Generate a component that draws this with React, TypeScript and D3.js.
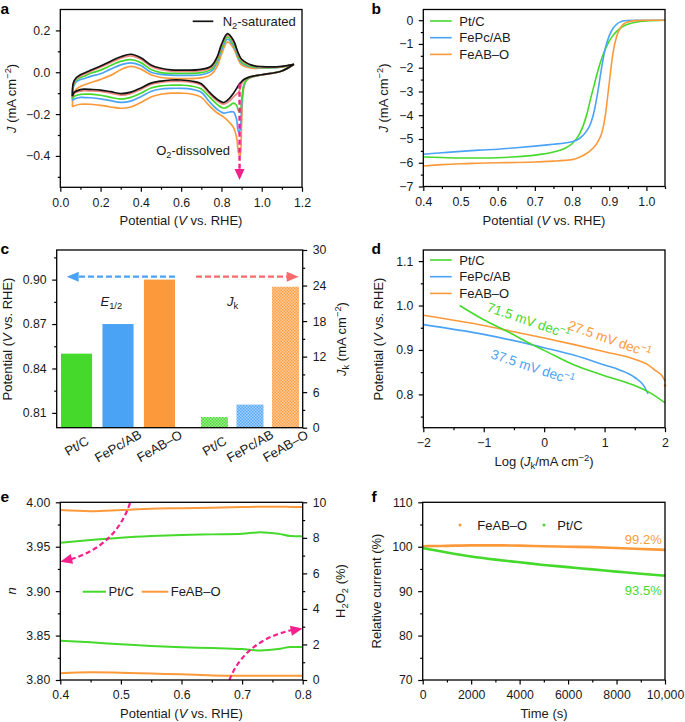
import React, { useEffect, useRef } from 'react';
import * as d3 from 'd3';

const FONT = "'Liberation Sans', Arial, Helvetica, sans-serif";
const TICK = 12.3;
const LAB = 13;
const C_GREEN = '#45d92c';
const C_BLUE = '#4ba3f5';
const C_ORANGE = '#fc9a3b';
const C_SALMON = '#f2877e';
const C_BLACK = '#141414';
const C_PINK = '#f5208c';
const C_RED_ARROW = '#f76b6b';

// ---------- Panel a : CV ----------
const cvUpperX = [0.06, 0.065, 0.08, 0.1, 0.12, 0.15, 0.2, 0.25, 0.3, 0.35, 0.4, 0.45, 0.5, 0.55, 0.6, 0.7, 0.75, 0.78, 0.8, 0.83, 0.86, 0.88, 0.9, 0.95, 1.0, 1.1, 1.16];
const cvLowerX = [0.06, 0.07, 0.1, 0.12, 0.15, 0.2, 0.25, 0.3, 0.35, 0.4, 0.45, 0.5, 0.55, 0.6, 0.65, 0.7, 0.74, 0.78, 0.81, 0.84, 0.86, 0.875, 0.885, 0.893, 0.9, 0.91, 0.925, 0.95, 1.0, 1.1, 1.16];
const cvOrangeUp = [-0.165, -0.11, -0.08, -0.068, -0.06, -0.05, -0.034, -0.015, 0.012, 0.028, 0.015, -0.012, -0.025, -0.029, -0.03, -0.027, -0.01, 0.03, 0.085, 0.145, 0.115, 0.07, 0.035, 0.02, 0.02, 0.026, 0.038];
const cvOrangeLow = [-0.165, -0.16, -0.153, -0.152, -0.153, -0.158, -0.166, -0.172, -0.166, -0.145, -0.118, -0.105, -0.1, -0.1, -0.104, -0.12, -0.16, -0.195, -0.213, -0.24, -0.265, -0.31, -0.385, -0.4, -0.25, -0.08, -0.038, -0.024, -0.013, 0.006, 0.038];
const cvBlueUp = [-0.135, -0.07, -0.045, -0.035, -0.03, -0.02, -0.007, 0.015, 0.035, 0.045, 0.032, 0.0, -0.01, -0.014, -0.015, -0.012, 0.005, 0.05, 0.105, 0.158, 0.127, 0.08, 0.045, 0.025, 0.022, 0.026, 0.038];
const cvBlueLow = [-0.135, -0.128, -0.12, -0.121, -0.122, -0.127, -0.136, -0.144, -0.138, -0.117, -0.092, -0.08, -0.077, -0.077, -0.081, -0.096, -0.14, -0.178, -0.195, -0.19, -0.19, -0.225, -0.285, -0.275, -0.17, -0.07, -0.036, -0.023, -0.012, 0.006, 0.038];
const cvGreenUp = [-0.125, -0.06, -0.035, -0.025, -0.018, -0.005, 0.01, 0.032, 0.052, 0.06, 0.046, 0.013, -0.002, -0.005, -0.005, -0.002, 0.015, 0.06, 0.115, 0.169, 0.135, 0.088, 0.05, 0.028, 0.023, 0.026, 0.038];
const cvGreenLow = [-0.125, -0.115, -0.106, -0.105, -0.105, -0.11, -0.12, -0.128, -0.12, -0.1, -0.075, -0.065, -0.062, -0.062, -0.066, -0.08, -0.118, -0.155, -0.172, -0.16, -0.148, -0.158, -0.185, -0.19, -0.14, -0.065, -0.035, -0.022, -0.012, 0.006, 0.038];
const cvSalmonUp = [-0.118, -0.055, -0.03, -0.018, -0.01, 0.004, 0.024, 0.046, 0.067, 0.078, 0.062, 0.028, 0.012, 0.005, 0.004, 0.008, 0.024, 0.07, 0.128, 0.178, 0.145, 0.095, 0.058, 0.032, 0.025, 0.027, 0.038];
const cvSalmonLow = [-0.118, -0.1, -0.09, -0.088, -0.089, -0.092, -0.1, -0.109, -0.102, -0.082, -0.058, -0.048, -0.044, -0.044, -0.048, -0.062, -0.102, -0.138, -0.153, -0.138, -0.118, -0.105, -0.095, -0.08, -0.055, -0.04, -0.03, -0.021, -0.012, 0.006, 0.038];
const cvBlackUp = [-0.115, -0.05, -0.025, -0.012, -0.004, 0.01, 0.03, 0.053, 0.074, 0.086, 0.069, 0.035, 0.019, 0.011, 0.01, 0.014, 0.03, 0.076, 0.132, 0.185, 0.152, 0.1, 0.062, 0.034, 0.027, 0.028, 0.038];
const cvBlackLow = [-0.115, -0.095, -0.083, -0.081, -0.082, -0.085, -0.093, -0.102, -0.095, -0.075, -0.052, -0.042, -0.037, -0.037, -0.042, -0.055, -0.095, -0.13, -0.145, -0.125, -0.1, -0.078, -0.062, -0.052, -0.045, -0.036, -0.028, -0.02, -0.012, 0.006, 0.038];
const aXMajor = [0, 0.2, 0.4, 0.6, 0.8, 1.0, 1.2];
const aXMinor = [0.1, 0.3, 0.5, 0.7, 0.9, 1.1];
const aYMajor = [-0.4, -0.2, 0, 0.2];
const aYMinor = [-0.5, -0.3, -0.1, 0.1];

// ---------- Panel b : LSV ----------
const lsvX = [0.4, 0.45, 0.5, 0.55, 0.6, 0.65, 0.7, 0.75, 0.78, 0.8, 0.82, 0.84, 0.85, 0.86, 0.87, 0.88, 0.89, 0.9, 0.91, 0.92, 0.93, 0.94, 0.95, 0.97, 1.0, 1.05];
const lsvPtC = [-5.76, -5.78, -5.8, -5.8, -5.79, -5.75, -5.68, -5.55, -5.4, -5.2, -4.8, -3.95, -3.3, -2.7, -2.1, -1.6, -1.2, -0.88, -0.65, -0.47, -0.34, -0.24, -0.17, -0.09, -0.03, 0];
const lsvFePc = [-5.64, -5.58, -5.52, -5.47, -5.43, -5.37, -5.3, -5.22, -5.17, -5.12, -4.98, -4.65, -4.35, -3.8, -2.95, -1.95, -1.15, -0.66, -0.35, -0.17, -0.07, -0.025, -0.01, 0, 0, 0];
const lsvFeAB = [-6.14, -6.08, -6.04, -6.02, -6.0, -5.99, -5.97, -5.93, -5.9, -5.87, -5.77, -5.6, -5.48, -5.33, -5.1, -4.75, -3.95, -2.65, -1.4, -0.68, -0.32, -0.15, -0.08, -0.02, 0, 0];
const bXMajor = [0.4, 0.5, 0.6, 0.7, 0.8, 0.9, 1.0];
const bXMinor = [0.45, 0.55, 0.65, 0.75, 0.85, 0.95, 1.05];
const bYMajor = [-7, -6, -5, -4, -3, -2, -1, 0];
const bYMinor = [-6.5, -5.5, -4.5, -3.5, -2.5, -1.5, -0.5];

// ---------- Panel c : bars ----------
const catalysts = ['Pt/C', 'FePc/AB', 'FeAB–O'];
const halfWave = [0.85, 0.87, 0.90];
const kineticJ = [1.8, 3.9, 23.8];
const cLeftMajor = [0.81, 0.84, 0.87, 0.90];
const cLeftMinor = [0.825, 0.855, 0.885, 0.915];
const cRightMajor = [0, 6, 12, 18, 24, 30];
const cRightMinor = [3, 9, 15, 21, 27];

// ---------- Panel d : Tafel ----------
const tafPtCX = [-1.4, -1.0, -0.6, -0.2, 0, 0.5, 1.0, 1.5, 1.75, 2.0];
const tafPtCY = [1.0, 0.968, 0.941, 0.912, 0.899, 0.866, 0.842, 0.82, 0.804, 0.781];
const tafFePcX = [-2, -1, 0, 0.5, 1.0, 1.25, 1.5, 1.65, 1.72];
const tafFePcY = [0.957, 0.935, 0.905, 0.888, 0.866, 0.855, 0.838, 0.819, 0.801];
const tafFeABX = [-2, -1, -0.5, 0, 0.5, 1.0, 1.5, 1.7, 1.85, 1.95, 2.0];
const tafFeABY = [0.978, 0.955, 0.941, 0.927, 0.912, 0.896, 0.879, 0.868, 0.853, 0.842, 0.83];
const dXMajor = [-2, -1, 0, 1, 2];
const dXMinor = [-1.5, -0.5, 0.5, 1.5];
const dYMajor = [0.8, 0.9, 1.0, 1.1];
const dYMinor = [0.75, 0.85, 0.95, 1.05];

// ---------- Panel e : n and H2O2 ----------
const eX = [0.4, 0.45, 0.5, 0.55, 0.6, 0.65, 0.7, 0.73, 0.76, 0.78, 0.8];
const nFeAB = [3.9913, 3.990, 3.9913, 3.9928, 3.9934, 3.994, 3.9946, 3.995, 3.995, 3.9948, 3.9946];
const nPtC = [3.9545, 3.9576, 3.9602, 3.962, 3.9632, 3.9639, 3.9647, 3.9662, 3.9645, 3.962, 3.9617];
const h2o2PtC = [2.21, 2.12, 2.01, 1.91, 1.84, 1.8, 1.74, 1.66, 1.74, 1.86, 1.86];
const h2o2FeAB = [0.38, 0.43, 0.41, 0.36, 0.32, 0.26, 0.24, 0.24, 0.24, 0.24, 0.24];
const eXMajor = [0.4, 0.5, 0.6, 0.7, 0.8];
const eXMinor = [0.45, 0.55, 0.65, 0.75];
const eLMajor = [3.8, 3.85, 3.9, 3.95, 4.0];
const eLMinor = [3.825, 3.875, 3.925, 3.975];
const eRMajor = [0, 2, 4, 6, 8, 10];
const eRMinor = [1, 3, 5, 7, 9];

// ---------- Panel f : stability ----------
const tX = [0, 500, 1000, 2000, 3000, 4000, 5000, 6000, 7000, 8000, 9000, 10000];
const relFeAB = [100.1, 100.15, 100.2, 100.3, 100.3, 100.25, 100.1, 100.0, 99.9, 99.7, 99.5, 99.3];
const relPtC = [99.7, 99.2, 98.7, 97.8, 97.1, 96.5, 95.9, 95.4, 94.9, 94.4, 93.9, 93.5];
const fXMajor = [0, 2000, 4000, 6000, 8000, 10000];
const fXMinor = [1000, 3000, 5000, 7000, 9000];
const fYMajor = [70, 80, 90, 100, 110];
const fYMinor = [75, 85, 95, 105];

type Part = { t: string; i?: boolean; sub?: boolean; sup?: boolean; b?: boolean };

const zip = (xs: number[], ys: number[]) => xs.map((v, i) => [v, ys[i]] as [number, number]);

export default function App() {
  const ref = useRef<SVGSVGElement>(null);

  useEffect(() => {
    const svg = d3.select(ref.current);
    svg.selectAll('*').remove();
    const root = svg.append('g').attr('font-family', FONT);

    const defs = svg.append('defs');
    [['hg', C_GREEN], ['hb', C_BLUE], ['ho', C_ORANGE]].forEach(([id, col]) => {
      const p = defs.append('pattern').attr('id', id).attr('patternUnits', 'userSpaceOnUse').attr('width', 3).attr('height', 3);
      p.append('rect').attr('width', 3).attr('height', 3).attr('fill', col).attr('opacity', 0.5);
      p.append('rect').attr('width', 1.5).attr('height', 1.5).attr('fill', col).attr('opacity', 0.9);
      p.append('rect').attr('x', 1.5).attr('y', 1.5).attr('width', 1.5).attr('height', 1.5).attr('fill', col).attr('opacity', 0.9);
    });

    const rich = (g: any, parts: Part[], x: number, y: number, o: { anchor?: string; size?: number; rot?: number; fill?: string; dy?: string } = {}) => {
      const size = o.size ?? LAB;
      const t = g.append('text')
        .attr('transform', `translate(${x},${y}) rotate(${o.rot ?? 0})`)
        .attr('text-anchor', o.anchor ?? 'start')
        .attr('font-size', size)
        .attr('fill', o.fill ?? '#1a1a1a');
      if (o.dy) t.attr('dy', o.dy);
      parts.forEach((p) => {
        const ts = t.append('tspan').text(p.t);
        if (p.i) ts.attr('font-style', 'italic');
        if (p.b) ts.attr('font-weight', 'bold');
        if (p.sub) ts.attr('font-size', size * 0.72).attr('baseline-shift', -size * 0.22);
        if (p.sup) ts.attr('font-size', size * 0.72).attr('baseline-shift', size * 0.38);
      });
      return t;
    };

    const styleAxis = (a: any) => {
      a.select('.domain').remove();
      a.selectAll('line').attr('stroke', '#000').attr('stroke-width', 1.2);
      a.attr('font-family', FONT).attr('font-size', TICK);
      a.selectAll('text').attr('fill', '#1a1a1a');
    };
    const axB = (g: any, x: any, yPos: number, major: number[], minor: number[], fmt: (v: number) => string) => {
      styleAxis(g.append('g').attr('transform', `translate(0,${yPos})`).call(d3.axisBottom(x).tickValues(minor).tickSize(2.5).tickFormat(() => '')));
      styleAxis(g.append('g').attr('transform', `translate(0,${yPos})`).call(d3.axisBottom(x).tickValues(major).tickSize(4.5).tickPadding(6).tickFormat(fmt as any)));
    };
    const axL = (g: any, y: any, xPos: number, major: number[], minor: number[], fmt: (v: number) => string) => {
      styleAxis(g.append('g').attr('transform', `translate(${xPos},0)`).call(d3.axisLeft(y).tickValues(minor).tickSize(2.5).tickFormat(() => '')));
      styleAxis(g.append('g').attr('transform', `translate(${xPos},0)`).call(d3.axisLeft(y).tickValues(major).tickSize(4.5).tickPadding(5.5).tickFormat(fmt as any)));
    };
    const axR = (g: any, y: any, xPos: number, major: number[], minor: number[], fmt: (v: number) => string) => {
      styleAxis(g.append('g').attr('transform', `translate(${xPos},0)`).call(d3.axisRight(y).tickValues(minor).tickSize(2.5).tickFormat(() => '')));
      styleAxis(g.append('g').attr('transform', `translate(${xPos},0)`).call(d3.axisRight(y).tickValues(major).tickSize(4.5).tickPadding(5.5).tickFormat(fmt as any)));
    };
    const frame = (g: any, x0: number, x1: number, yT: number, yB: number) => {
      g.append('rect').attr('x', x0).attr('y', yT).attr('width', x1 - x0).attr('height', yB - yT)
        .attr('fill', 'none').attr('stroke', '#000').attr('stroke-width', 1.3);
    };
    const head = (g: any, tx: number, ty: number, ang: number, len: number, hw: number, col: string) => {
      const bx = tx - len * Math.cos(ang), by = ty - len * Math.sin(ang);
      const px = -Math.sin(ang) * hw, py = Math.cos(ang) * hw;
      g.append('path').attr('d', `M${tx},${ty}L${bx + px},${by + py}L${bx - px},${by - py}Z`).attr('fill', col);
    };
    const letter = (t: string, x: number, y: number) =>
      root.append('text').attr('x', x).attr('y', y).attr('font-size', 15.5).attr('font-weight', 'bold').attr('fill', '#000').text(t);
    const f1 = d3.format('.1f');
    const f2 = d3.format('.2f');
    const fd = d3.format('d');

    // ================= Panel a =================
    {
      const g = root.append('g');
      const x = d3.scaleLinear().domain([0, 1.2]).range([60.3, 302]);
      const y = d3.scaleLinear().domain([-0.55, 0.3]).range([187.3, 9.5]);
      const line = d3.line<[number, number]>().x((d) => x(d[0])).y((d) => y(d[1])).curve(d3.curveCatmullRom.alpha(0.5));
      const cvs: [number[], number[], string][] = [
        [cvOrangeUp, cvOrangeLow, C_ORANGE],
        [cvBlueUp, cvBlueLow, C_BLUE],
        [cvGreenUp, cvGreenLow, C_GREEN],
        [cvSalmonUp, cvSalmonLow, C_SALMON],
        [cvBlackUp, cvBlackLow, C_BLACK],
      ];
      cvs.forEach(([up, low, col]) => {
        g.append('path').attr('d', line(zip(cvUpperX, up))).attr('fill', 'none').attr('stroke', col).attr('stroke-width', 1.7);
        g.append('path').attr('d', line(zip(cvLowerX, low))).attr('fill', 'none').attr('stroke', col).attr('stroke-width', 1.7);
      });
      g.append('line').attr('x1', x(0.89)).attr('x2', x(0.89)).attr('y1', y(-0.055)).attr('y2', y(-0.47))
        .attr('stroke', C_PINK).attr('stroke-width', 2.4).attr('stroke-dasharray', '5,3');
      head(g, x(0.89), y(-0.515), Math.PI / 2, 11, 5, C_PINK);
      frame(g, 60.3, 302, 9.5, 187.3);
      axB(g, x, 187.3, aXMajor, aXMinor, f1);
      axL(g, y, 60.3, aYMajor, aYMinor, f1);
      g.append('line').attr('x1', 192.7).attr('x2', 213.3).attr('y1', 21.3).attr('y2', 21.3).attr('stroke', C_BLACK).attr('stroke-width', 1.7);
      rich(g, [{ t: 'N' }, { t: '2', sub: true }, { t: '-saturated' }], 222.7, 21.3, { dy: '0.35em' });
      rich(g, [{ t: 'O' }, { t: '2', sub: true }, { t: '-dissolved' }], 230, 154.5, { anchor: 'end' });
      rich(g, [{ t: 'J', i: true }, { t: ' (mA cm' }, { t: '−2', sup: true }, { t: ')' }], 15.5, (9.5 + 187.3) / 2, { anchor: 'middle', rot: -90 });
      rich(g, [{ t: 'Potential (' }, { t: 'V', i: true }, { t: ' vs. RHE)' }], 181, 225, { anchor: 'middle' });
      letter('a', 0.5, 14);
    }

    // ================= Panel b =================
    {
      const g = root.append('g');
      const x = d3.scaleLinear().domain([0.4, 1.05]).range([423.3, 665]);
      const y = d3.scaleLinear().domain([-7, 0.45]).range([186.5, 9.5]);
      const line = d3.line<[number, number]>().x((d) => x(d[0])).y((d) => y(d[1])).curve(d3.curveMonotoneX);
      [[lsvPtC, C_GREEN], [lsvFePc, C_BLUE], [lsvFeAB, C_ORANGE]].forEach(([ys, col]: any) => {
        g.append('path').attr('d', line(zip(lsvX, ys))).attr('fill', 'none').attr('stroke', col).attr('stroke-width', 1.6);
      });
      frame(g, 423.3, 665, 9.5, 186.5);
      axB(g, x, 186.5, bXMajor, bXMinor, f1);
      axL(g, y, 423.3, bYMajor, bYMinor, fd);
      const leg: [string, string][] = [['Pt/C', C_GREEN], ['FePc/AB', C_BLUE], ['FeAB–O', C_ORANGE]];
      leg.forEach(([name, col], i) => {
        const yy = 21 + i * 16.7;
        g.append('line').attr('x1', 430).attr('x2', 451.7).attr('y1', yy).attr('y2', yy).attr('stroke', col).attr('stroke-width', 1.6);
        rich(g, [{ t: name }], 459.3, yy, { dy: '0.35em' });
      });
      rich(g, [{ t: 'J', i: true }, { t: ' (mA cm' }, { t: '−2', sup: true }, { t: ')' }], 388, 98, { anchor: 'middle', rot: -90 });
      rich(g, [{ t: 'Potential (' }, { t: 'V', i: true }, { t: ' vs. RHE)' }], 544, 225, { anchor: 'middle' });
      letter('b', 371.5, 14);
    }

    // ================= Panel c =================
    {
      const g = root.append('g');
      const yL = d3.scaleLinear().domain([0.8, 0.92]).range([427.7, 250]);
      const yR = d3.scaleLinear().domain([0, 30]).range([427.7, 250]);
      const xL = d3.scaleBand<string>().domain(catalysts).range([61, 175]).paddingInner(0.25).paddingOuter(0);
      const xR = d3.scaleBand<string>().domain(catalysts).range([201, 299]).paddingInner(0.24).paddingOuter(0);
      const solid = [C_GREEN, C_BLUE, C_ORANGE];
      const hatch = ['url(#hg)', 'url(#hb)', 'url(#ho)'];
      catalysts.forEach((c, i) => {
        g.append('rect').attr('x', xL(c)!).attr('width', xL.bandwidth()).attr('y', yL(halfWave[i])).attr('height', yL(0.8) - yL(halfWave[i])).attr('fill', solid[i]);
        g.append('rect').attr('x', xR(c)!).attr('width', xR.bandwidth()).attr('y', yR(kineticJ[i])).attr('height', yR(0) - yR(kineticJ[i])).attr('fill', hatch[i]);
        rich(g, [{ t: c }], xL(c)! + xL.bandwidth() / 2, 446, { anchor: 'middle', rot: -30, dy: '0.35em' });
        rich(g, [{ t: c }], xR(c)! + xR.bandwidth() / 2, 446, { anchor: 'middle', rot: -30, dy: '0.35em' });
      });
      const ay = yL(0.902);
      const leftStart = xL('FeAB–O')! + xL.bandwidth();
      g.append('line').attr('x1', leftStart).attr('x2', 56.7 + 20).attr('y1', ay).attr('y2', ay)
        .attr('stroke', C_BLUE).attr('stroke-width', 2.4).attr('stroke-dasharray', '6,3');
      head(g, 56.7 + 10, ay, Math.PI, 12, 5, C_BLUE);
      const rightStart = xR('Pt/C')! - 5;
      g.append('line').attr('x1', rightStart).attr('x2', 302.7 - 14).attr('y1', ay).attr('y2', ay)
        .attr('stroke', C_RED_ARROW).attr('stroke-width', 2.4).attr('stroke-dasharray', '6,3');
      head(g, 302.7 - 4, ay, 0, 12, 5, C_RED_ARROW);
      frame(g, 56.7, 302.7, 250, 427.7);
      axL(g, yL, 56.7, cLeftMajor, cLeftMinor, f2);
      axR(g, yR, 302.7, cRightMajor, cRightMinor, fd);
      rich(g, [{ t: 'E', i: true }, { t: '1/2', sub: true }], 100.5, 306);
      rich(g, [{ t: 'J', i: true }, { t: 'k', sub: true }], 227, 306);
      rich(g, [{ t: 'Potential (' }, { t: 'V', i: true }, { t: ' vs. RHE)' }], 12, 339, { anchor: 'middle', rot: -90 });
      rich(g, [{ t: 'J', i: true }, { t: 'k', sub: true }, { t: ' (mA cm' }, { t: '−2', sup: true }, { t: ')' }], 346, 339, { anchor: 'middle', rot: -90 });
      letter('c', 0.5, 253.5);
    }

    // ================= Panel d =================
    {
      const g = root.append('g');
      const x = d3.scaleLinear().domain([-2, 2]).range([423.3, 665]);
      const y = d3.scaleLinear().domain([0.725, 1.125]).range([427.7, 250]);
      const line = d3.line<[number, number]>().x((d) => x(d[0])).y((d) => y(d[1])).curve(d3.curveMonotoneX);
      g.append('path').attr('d', line(zip(tafFeABX, tafFeABY))).attr('fill', 'none').attr('stroke', C_ORANGE).attr('stroke-width', 1.6);
      g.append('circle').attr('cx', x(2)).attr('cy', y(0.82)).attr('r', 1.3).attr('fill', C_ORANGE);
      g.append('path').attr('d', line(zip(tafFePcX, tafFePcY))).attr('fill', 'none').attr('stroke', C_BLUE).attr('stroke-width', 1.6);
      g.append('path').attr('d', line(zip(tafPtCX, tafPtCY))).attr('fill', 'none').attr('stroke', C_GREEN).attr('stroke-width', 1.6);
      frame(g, 423.3, 665, 250, 427.7);
      axB(g, x, 427.7, dXMajor, dXMinor, fd);
      axL(g, y, 423.3, dYMajor, dYMinor, f1);
      const leg: [string, string][] = [['Pt/C', C_GREEN], ['FePc/AB', C_BLUE], ['FeAB–O', C_ORANGE]];
      leg.forEach(([name, col], i) => {
        const yy = 260 + i * 16.7;
        g.append('line').attr('x1', 430).attr('x2', 451.7).attr('y1', yy).attr('y2', yy).attr('stroke', col).attr('stroke-width', 1.6);
        rich(g, [{ t: name }], 459.3, yy, { dy: '0.35em' });
      });
      rich(g, [{ t: '71.5 mV dec' }, { t: '−1', sup: true }], x(-0.962), y(0.9877), { rot: 19, fill: C_GREEN, size: 13.5 });
      rich(g, [{ t: '27.5 mV dec' }, { t: '−1', sup: true }], x(0.378), y(0.947), { rot: 19.4, fill: C_ORANGE, size: 13.5 });
      rich(g, [{ t: '37.5 mV dec' }, { t: '−1', sup: true }], x(-0.896), y(0.882), { rot: 18.3, fill: C_BLUE, size: 13.5 });
      rich(g, [{ t: 'Potential (' }, { t: 'V', i: true }, { t: ' vs. RHE)' }], 383, 339, { anchor: 'middle', rot: -90 });
      rich(g, [{ t: 'Log (' }, { t: 'J', i: true }, { t: 'k', sub: true }, { t: '/mA cm' }, { t: '−2', sup: true }, { t: ')' }], 544, 466, { anchor: 'middle' });
      letter('d', 371.5, 253.5);
    }

    // ================= Panel e =================
    {
      const g = root.append('g');
      const x = d3.scaleLinear().domain([0.4, 0.8]).range([60.3, 302.7]);
      const yL = d3.scaleLinear().domain([3.8, 4.0]).range([680, 502.3]);
      const yR = d3.scaleLinear().domain([0, 10]).range([680, 502.3]);
      const lineL = d3.line<[number, number]>().x((d) => x(d[0])).y((d) => yL(d[1])).curve(d3.curveMonotoneX);
      const lineR = d3.line<[number, number]>().x((d) => x(d[0])).y((d) => yR(d[1])).curve(d3.curveMonotoneX);
      g.append('path').attr('d', lineL(zip(eX, nFeAB))).attr('fill', 'none').attr('stroke', C_ORANGE).attr('stroke-width', 2);
      g.append('path').attr('d', lineL(zip(eX, nPtC))).attr('fill', 'none').attr('stroke', C_GREEN).attr('stroke-width', 2);
      g.append('path').attr('d', lineR(zip(eX, h2o2PtC))).attr('fill', 'none').attr('stroke', C_GREEN).attr('stroke-width', 2);
      g.append('path').attr('d', lineR(zip(eX, h2o2FeAB))).attr('fill', 'none').attr('stroke', C_ORANGE).attr('stroke-width', 2);
      const p1 = d3.path();
      p1.moveTo(x(0.515), yL(3.999));
      p1.quadraticCurveTo(x(0.49), yL(3.9486), x(0.41), yL(3.9345));
      g.append('path').attr('d', p1.toString()).attr('fill', 'none').attr('stroke', C_PINK).attr('stroke-width', 2.2).attr('stroke-dasharray', '5,3');
      head(g, x(0.4), yL(3.933), Math.atan2(yL(3.933) - yL(3.9486), x(0.4) - x(0.49)), 12, 5, C_PINK);
      const p2 = d3.path();
      p2.moveTo(x(0.679), yR(0));
      p2.quadraticCurveTo(x(0.705), yR(2.25), x(0.785), yR(2.83));
      g.append('path').attr('d', p2.toString()).attr('fill', 'none').attr('stroke', C_PINK).attr('stroke-width', 2.2).attr('stroke-dasharray', '5,3');
      head(g, x(0.8), yR(2.9), Math.atan2(yR(2.9) - yR(2.3), x(0.8) - x(0.71)), 12, 5, C_PINK);
      frame(g, 60.3, 302.7, 502.3, 680);
      axB(g, x, 680, eXMajor, eXMinor, f1);
      axL(g, yL, 60.3, eLMajor, eLMinor, f2);
      axR(g, yR, 302.7, eRMajor, eRMinor, fd);
      const ly = 591.7;
      g.append('line').attr('x1', 82.7).attr('x2', 106).attr('y1', ly).attr('y2', ly).attr('stroke', C_GREEN).attr('stroke-width', 2);
      rich(g, [{ t: 'Pt/C' }], 108.5, ly, { dy: '0.35em' });
      g.append('line').attr('x1', 141.7).attr('x2', 168.3).attr('y1', ly).attr('y2', ly).attr('stroke', C_ORANGE).attr('stroke-width', 2);
      rich(g, [{ t: 'FeAB–O' }], 170.7, ly, { dy: '0.35em' });
      rich(g, [{ t: 'n', i: true }], 16, 591, { anchor: 'middle', rot: -90 });
      rich(g, [{ t: 'H' }, { t: '2', sub: true }, { t: 'O' }, { t: '2', sub: true }, { t: ' (%)' }], 345, 591, { anchor: 'middle', rot: -90 });
      rich(g, [{ t: 'Potential (' }, { t: 'V', i: true }, { t: ' vs. RHE)' }], 181.5, 718, { anchor: 'middle' });
      letter('e', 0.5, 502);
    }

    // ================= Panel f =================
    {
      const g = root.append('g');
      const x = d3.scaleLinear().domain([0, 10000]).range([422.7, 665]);
      const y = d3.scaleLinear().domain([70, 110]).range([680, 502.3]);
      const line = d3.line<[number, number]>().x((d) => x(d[0])).y((d) => y(d[1])).curve(d3.curveMonotoneX);
      g.append('path').attr('d', line(zip(tX, relFeAB))).attr('fill', 'none').attr('stroke', C_ORANGE).attr('stroke-width', 2.6);
      g.append('path').attr('d', line(zip(tX, relPtC))).attr('fill', 'none').attr('stroke', C_GREEN).attr('stroke-width', 2.6);
      frame(g, 422.7, 665, 502.3, 680);
      axB(g, x, 680, fXMajor, fXMinor, (v: number) => (v >= 10000 ? d3.format(',')(v) : String(v)));
      axL(g, y, 422.7, fYMajor, fYMinor, fd);
      g.append('circle').attr('cx', 460).attr('cy', 525).attr('r', 1.5).attr('fill', C_ORANGE);
      rich(g, [{ t: 'FeAB–O' }], 477.3, 525, { dy: '0.35em' });
      g.append('circle').attr('cx', 544).attr('cy', 525).attr('r', 1.5).attr('fill', C_GREEN);
      rich(g, [{ t: 'Pt/C' }], 557.3, 525, { dy: '0.35em' });
      rich(g, [{ t: '99.2%' }], x(9864), y(100.6), { anchor: 'end', fill: C_ORANGE });
      rich(g, [{ t: '93.5%' }], x(9864), y(89.2), { anchor: 'end', fill: C_GREEN });
      rich(g, [{ t: 'Relative current (%)' }], 381, 591, { anchor: 'middle', rot: -90 });
      rich(g, [{ t: 'Time (s)' }], 544, 718, { anchor: 'middle' });
      letter('f', 371.5, 502);
    }
  }, []);

  return (
    <svg
      ref={ref}
      width={685}
      height={722}
      style={{ position: 'absolute', left: 0, top: 0, background: '#fff' }}
    />
  );
}
